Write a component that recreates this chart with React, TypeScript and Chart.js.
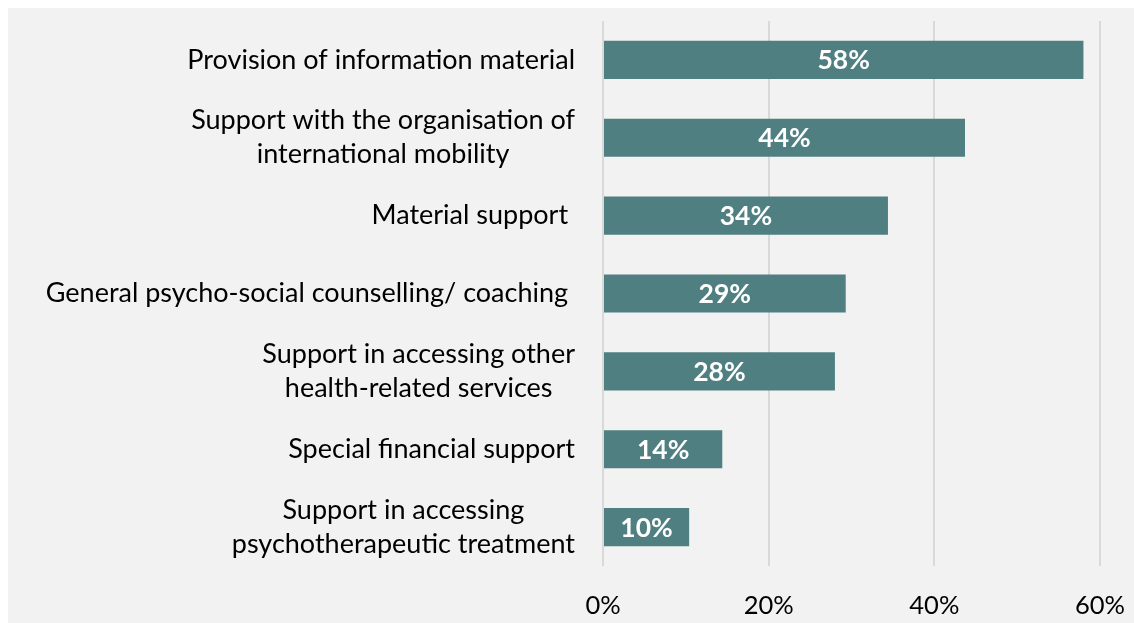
import React, { useEffect, useRef } from "react";
import { Chart, registerables } from "chart.js";

Chart.register(...registerables);

const categories: string[][] = [
  ["Provision of information material"],
  ["Support with the organisation of", "international mobility"],
  ["Material support "],
  ["General psycho-social counselling/ coaching "],
  ["Support in accessing other", "health-related services"],
  ["Special financial support"],
  ["Support in accessing", "psychotherapeutic treatment"],
];
const values: number[] = [58.0, 43.7, 34.4, 29.3, 28.0, 14.4, 10.4];
const xTicks: number[] = [0, 20, 40, 60];

const FONT = "Lato, 'Open Sans', sans-serif";
const CAT_SIZE = 27;
const TICK_SIZE = 25.5;
const VAL_SIZE = 26.5;
const BAR_COLOR = "#4f7f80";

const labelsPlugin = {
  id: "customLabels",
  afterDraw(chart: any) {
    const ctx = chart.ctx as CanvasRenderingContext2D;
    const yScale = chart.scales.y;
    const area = chart.chartArea;
    ctx.save();
    ctx.font = `${CAT_SIZE}px ${FONT}`;
    ctx.fillStyle = "#000000";
    ctx.textBaseline = "middle";
    const rightEdge = area.left - 28;
    const lineH = 34;
    categories.forEach((lines, i) => {
      const yc = yScale.getPixelForValue(i);
      const widths = lines.map((l) => ctx.measureText(l).width);
      const maxW = Math.max(...widths);
      const blockCenter = rightEdge - maxW / 2;
      lines.forEach((l, j) => {
        const y = yc + (j - (lines.length - 1) / 2) * lineH;
        ctx.textAlign = "center";
        ctx.fillText(l, blockCenter, y);
      });
    });
    ctx.font = `bold ${VAL_SIZE}px ${FONT}`;
    ctx.fillStyle = "#ffffff";
    ctx.textAlign = "center";
    const meta = chart.getDatasetMeta(0);
    meta.data.forEach((bar: any, i: number) => {
      const cx = (bar.x + bar.base) / 2;
      ctx.fillText(Math.round(values[i]) + "%", cx, bar.y + 1);
    });
    ctx.restore();
  },
};

export default function App() {
  const ref = useRef<HTMLCanvasElement | null>(null);
  useEffect(() => {
    if (!ref.current) return;
    const chart = new Chart(ref.current, {
      type: "bar",
      data: {
        labels: categories.map((c) => c.join(" ")),
        datasets: [
          {
            data: values,
            backgroundColor: BAR_COLOR,
            borderWidth: 0,
            categoryPercentage: 1,
            barPercentage: 0.49,
          },
        ],
      },
      options: {
        indexAxis: "y",
        animation: false,
        responsive: false,
        maintainAspectRatio: false,
        layout: { padding: { top: 13, right: 34, left: 0, bottom: 0 } },
        plugins: { legend: { display: false }, tooltip: { enabled: false } },
        scales: {
          x: {
            min: 0,
            max: 60,
            afterBuildTicks: (scale: any) => {
              scale.ticks = xTicks.map((v) => ({ value: v }));
            },
            afterFit: (scale: any) => {
              scale.height = 57;
              scale.paddingRight = 0;
              scale.paddingLeft = 0;
            },
            grid: { color: "#d9d9d9", lineWidth: 2, drawTicks: false },
            border: { display: false },
            ticks: {
              padding: 24,
              color: "#000000",
              font: { family: FONT, size: TICK_SIZE },
              callback: (v: any) => v + "%",
            },
          },
          y: {
            afterFit: (scale: any) => {
              scale.width = 595;
            },
            grid: { display: false },
            border: { display: false },
            ticks: { display: false },
          },
        },
      },
      plugins: [labelsPlugin],
    });
    return () => chart.destroy();
  }, []);
  return (
    <div
      style={{
        position: "fixed",
        left: 8,
        top: 8,
        width: 1126,
        height: 615,
        background: "#f2f2f2",
      }}
    >
      <canvas ref={ref} width={1126} height={615} style={{ display: "block" }} />
    </div>
  );
}
